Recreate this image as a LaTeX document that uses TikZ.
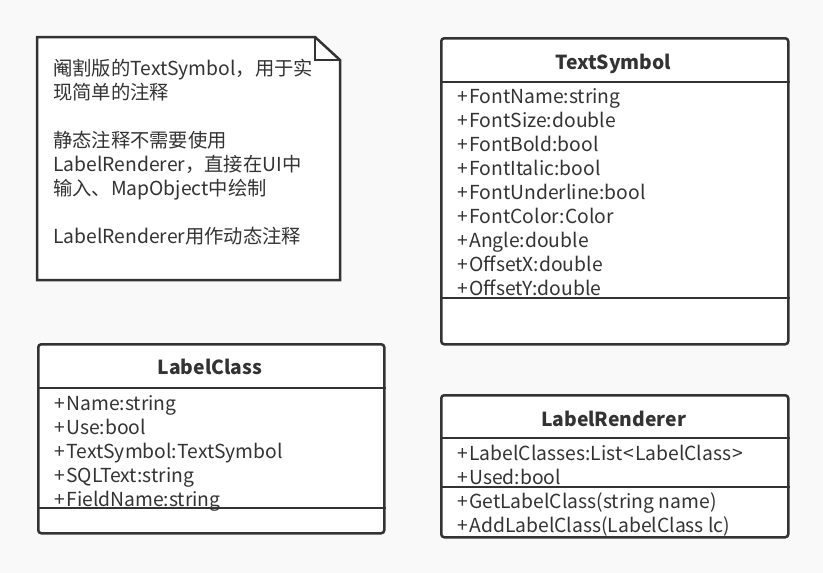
\documentclass[tikz,border=0pt]{standalone}
\usepackage{fontspec}
\newfontfamily\cjk{Noto Sans CJK SC}
\definecolor{ink}{HTML}{333333}
\definecolor{paper}{HTML}{F9F9F9}
% public-member marker with a little breathing room
\newcommand{\pubm}{+\kern1.5pt}
\begin{document}
\begin{tikzpicture}[x=1pt,y=-1pt,
  every node/.style={font=\cjk\fontsize{19.3}{24}\selectfont, text=ink, inner sep=0pt},
  classbox/.style={draw=ink, line width=2.5pt, fill=white, rounded corners=3pt, anchor=north west},
  notebox/.style={draw=ink, line width=2.5pt, fill=white, line join=miter},
  sep/.style={draw=ink, line width=2.5pt},
  title/.style={anchor=base, font=\cjk\bfseries\fontsize{19.3}{24}\selectfont},
  attr/.style={anchor=base west},
  noteline/.style={anchor=base west}]
\fill[paper] (0,0) rectangle (823,573);
\useasboundingbox (0,0) rectangle (823,573);

% note with folded corner
\coordinate (n1) at (37,37);
\coordinate (n2) at (315,37);
\coordinate (n3) at (340,60);
\coordinate (n4) at (340,280);
\coordinate (n5) at (37,280);
\coordinate (nf) at (315,60);
\draw[notebox] (n1) -- (n2) -- (n3) -- (n4) -- (n5) -- cycle;
\draw[notebox, fill=none] (n2) -- (nf) -- (n3);
\node[noteline] (t1) at (53,75)  {阉割版的TextSymbol，用于实};
\node[noteline] (t2) at (53,99)  {现简单的注释};
\node[noteline] (t3) at (53,147) {静态注释不需要使用};
\node[noteline] (t4) at (53,171) {LabelRenderer，直接在UI中};
\node[noteline] (t5) at (53,195) {输入、MapObject中绘制};
\node[noteline] (t6) at (53,243) {LabelRenderer用作动态注释};

% TextSymbol
\node[classbox, minimum width=347pt, minimum height=306pt] (ts) at (440,37) {};
\draw[sep] (ts.west |- 0,82) -- (ts.east |- 0,82);
\draw[sep] (ts.west |- 0,298) -- (ts.east |- 0,298);
\node[title] (tst) at (613.5,69) {TextSymbol};
\node[attr] (ts1) at (457,103.5) {\pubm FontName:string};
\node[attr] (ts2) at (457,127.5) {\pubm FontSize:double};
\node[attr] (ts3) at (457,151.5) {\pubm FontBold:bool};
\node[attr] (ts4) at (457,175.5) {\pubm FontItalic:bool};
\node[attr] (ts5) at (457,199.5) {\pubm FontUnderline:bool};
\node[attr] (ts6) at (457,223.5) {\pubm FontColor:Color};
\node[attr] (ts7) at (457,247.5) {\pubm Angle:double};
\node[attr] (ts8) at (457,271.5) {\pubm OffsetX:double};
\node[attr] (ts9) at (457,295.5) {\pubm OffsetY:double};

% LabelClass
\node[classbox, minimum width=346pt, minimum height=189pt] (lc) at (37,343) {};
\draw[sep] (lc.west |- 0,388) -- (lc.east |- 0,388);
\draw[sep] (lc.west |- 0,508) -- (lc.east |- 0,508);
\node[title] (lct) at (210,374) {LabelClass};
\node[attr] (lc1) at (54,410) {\pubm Name:string};
\node[attr] (lc2) at (54,434) {\pubm Use:bool};
\node[attr] (lc3) at (54,458) {\pubm TextSymbol:TextSymbol};
\node[attr] (lc4) at (54,482) {\pubm SQLText:string};
\node[attr] (lc5) at (54,506) {\pubm FieldName:string};

% LabelRenderer
\node[classbox, minimum width=347pt, minimum height=142pt] (lr) at (440,394) {};
\draw[sep] (lr.west |- 0,438) -- (lr.east |- 0,438);
\draw[sep] (lr.west |- 0,487) -- (lr.east |- 0,487);
\node[title] (lrt) at (613.5,426) {LabelRenderer};
\node[attr] (lr1) at (457,460) {\pubm LabelClasses:List\kern1pt<\kern1pt LabelClass\kern1pt>};
\node[attr] (lr2) at (457,484) {\pubm Used:bool};
\node[attr] (lr3) at (457,508) {\pubm GetLabelClass(string name)};
\node[attr] (lr4) at (457,532) {\pubm AddLabelClass(LabelClass lc)};
\end{tikzpicture}
\end{document}
